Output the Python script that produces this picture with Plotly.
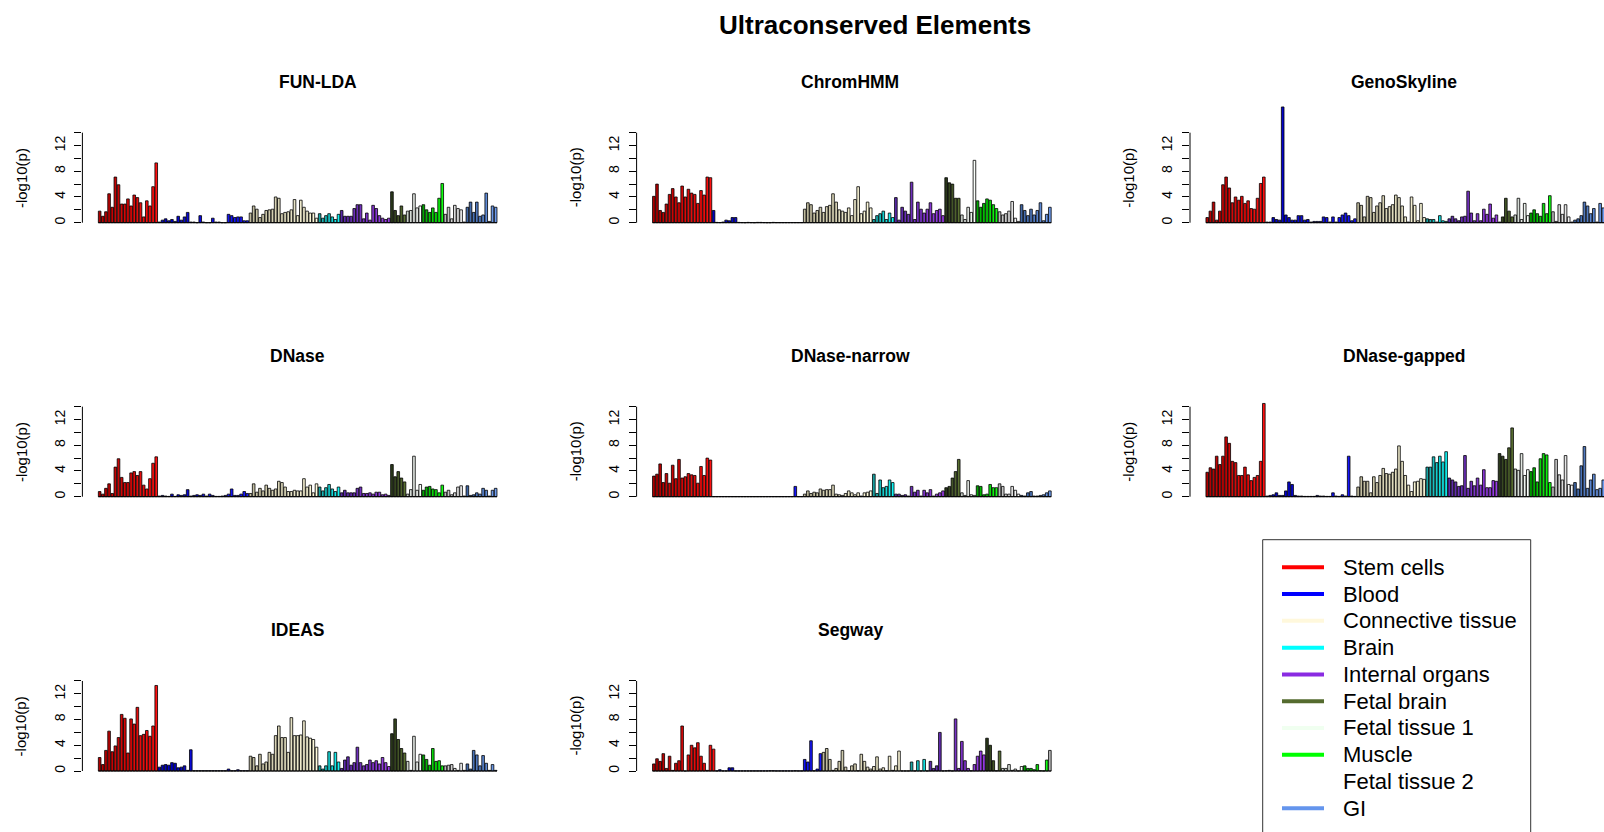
import plotly.graph_objects as go

W, H = 1604, 832

# ---------------- data ----------------
group_names = ["Stem cells", "Blood", "Connective tissue", "Brain", "Internal organs",
               "Fetal brain", "Fetal tissue 1", "Muscle", "Fetal tissue 2", "GI"]
group_sizes = [19, 29, 22, 7, 16, 5, 5, 7, 7, 10]
group_sizes_segway = [20, 34, 28, 6, 18, 5, 7, 8, 1, 0]
legend_colors = ["#FF0000", "#0000FF", "#FFF8DC", "#00FFFF", "#8A2BE2",
                 "#556B2F", "#F0FFF0", "#00FF00", "#FFFFFF", "#6495ED"]

panel_titles = ["FUN-LDA", "ChromHMM", "GenoSkyline", "DNase", "DNase-narrow",
                "DNase-gapped", "IDEAS", "Segway"]

fun_lda = [1.8, 1.0, 1.7, 4.5, 2.4, 7.1, 5.9, 2.9, 2.9, 3.7, 2.6, 4.3, 3.9, 3.1, 0.9, 3.4, 2.6, 5.6, 9.3,
           0.1, 0.4, 0.6, 0.3, 0.5, 0.2, 1.0, 0.4, 0.9, 1.6, 0.1, 0.1, 0.0, 1.1, 0.1, 0.0, 0.0, 0.7, 0.1, 0.1,
           0.0, 0.0, 1.3, 1.1, 0.8, 0.9, 0.9, 0.3, 0.3,
           1.5, 2.6, 2.1, 0.8, 1.3, 1.9, 2.0, 2.1, 4.0, 3.8, 1.4, 1.6, 1.7, 2.0, 3.6, 1.1, 3.5, 2.4, 1.8, 1.5, 1.5, 0.7,
           1.4, 0.7, 1.1, 1.4, 0.9, 0.5, 1.3,
           1.9, 1.0, 1.0, 1.0, 2.2, 2.8, 2.8, 0.6, 1.5, 0.4, 2.7, 2.2, 1.1, 0.7, 0.5, 0.7,
           4.8, 1.9, 1.1, 2.6, 1.2,
           1.8, 1.9, 4.5, 2.3, 2.6,
           2.8, 2.0, 1.6, 2.3, 1.6, 3.8, 6.1,
           1.3, 2.4, 0.6, 2.7, 2.2, 2.0, 0.1,
           2.4, 3.2, 1.6, 3.2, 1.0, 1.2, 4.6, 0.2, 2.6, 2.4]

chromhmm = [4.1, 6.0, 1.9, 1.6, 2.9, 4.4, 5.3, 4.0, 3.1, 5.7, 4.0, 5.2, 4.6, 4.4, 3.0, 5.0, 4.3, 7.1, 7.0,
            1.9, 0.05, 0.02, 0.1, 0.4, 0.3, 0.8, 0.8, 0.05, 0.02, 0.0, 0.05, 0.02, 0.0, 0.05, 0.05, 0.02, 0.0,
            0.0, 0.05, 0.02, 0.02, 0.02, 0.02, 0.02, 0.02, 0.02, 0.02, 0.02,
            2.1, 3.1, 2.8, 1.5, 1.9, 2.4, 1.6, 2.5, 2.7, 4.5, 3.2, 2.0, 1.8, 1.6, 2.3, 1.1, 3.6, 5.6, 1.4, 1.8, 3.2, 2.3,
            0.5, 1.1, 1.4, 1.8, 0.5, 1.5, 0.8,
            3.9, 0.4, 2.4, 1.8, 1.3, 6.3, 0.5, 3.2, 2.1, 1.5, 2.1, 3.1, 1.4, 1.9, 2.1, 1.1,
            7.0, 6.2, 6.0, 3.8, 3.8,
            1.2, 0.5, 2.4, 1.6, 9.7,
            3.4, 2.4, 3.0, 3.7, 3.5, 2.8, 2.2,
            1.7, 1.2, 1.4, 1.8, 3.3, 0.7, 0.2,
            2.8, 1.9, 1.1, 2.1, 1.2, 1.9, 3.1, 0.3, 1.3, 2.4]

genoskyline = [0.8, 1.8, 3.2, 0.4, 1.8, 5.9, 7.1, 5.4, 3.1, 4.0, 3.5, 4.1, 3.0, 3.4, 2.2, 2.1, 3.8, 6.1, 7.1,
               0.1, 0.1, 0.8, 0.5, 0.4, 18.0, 1.2, 0.8, 0.4, 0.4, 1.1, 1.1, 0.4, 0.5, 0.1, 0.2, 0.2, 0.2, 0.9,
               0.8, 0.1, 0.9, 0.1, 0.8, 1.2, 1.5, 1.1, 0.3, 0.6,
               3.1, 2.7, 0.9, 4.1, 3.9, 1.6, 2.6, 3.1, 4.2, 2.2, 2.5, 2.8, 4.3, 3.9, 2.6, 0.9, 0.1, 4.0, 2.7, 0.3, 3.0, 0.8,
               0.6, 0.5, 0.5, 0.1, 1.1, 0.3, 0.2,
               0.6, 1.0, 0.6, 0.3, 0.9, 1.0, 4.9, 1.5, 0.3, 1.4, 0.3, 2.1, 1.3, 2.9, 0.7, 1.2,
               0.1, 0.9, 3.8, 1.8, 0.9,
               1.2, 3.8, 0.5, 3.0, 1.1,
               1.5, 2.0, 1.4, 1.0, 3.0, 1.4, 4.2,
               1.7, 0.2, 2.8, 1.3, 2.8, 0.9, 0.1,
               0.4, 0.6, 1.1, 3.2, 2.6, 1.4, 2.2, 0.1, 3.0, 2.3]

dnase = [0.8, 0.4, 1.3, 2.0, 0.5, 4.6, 5.9, 3.0, 2.2, 2.2, 3.7, 3.9, 3.3, 3.9, 1.8, 1.2, 2.8, 5.2, 6.2,
         0.1, 0.2, 0.1, 0.05, 0.4, 0.05, 0.3, 0.2, 0.3, 1.1, 0.1, 0.2, 0.3, 0.2, 0.4, 0.1, 0.4, 0.2, 0.05,
         0.05, 0.1, 0.2, 0.4, 1.2, 0.2, 0.2, 0.4, 0.8, 0.5,
         0.5, 2.0, 0.7, 1.3, 0.9, 1.8, 1.3, 1.0, 1.2, 2.4, 2.2, 1.5, 0.8, 0.8, 1.0, 0.9, 0.9, 2.8, 1.5, 1.8, 0.6, 2.0,
         1.5, 0.9, 1.4, 1.9, 1.2, 0.8, 1.5,
         0.6, 1.0, 0.6, 0.6, 0.6, 1.3, 1.5, 0.5, 0.5, 0.6, 0.4, 0.7, 0.7, 0.3, 0.4, 0.2,
         5.0, 3.1, 3.9, 2.9, 2.3,
         0.4, 1.1, 6.3, 1.0, 1.9,
         1.0, 1.5, 1.6, 1.2, 1.1, 0.6, 1.8,
         0.7, 1.0, 0.3, 0.6, 1.5, 1.7, 0.1,
         1.7, 0.2, 0.3, 0.6, 0.4, 1.3, 1.0, 0.1, 1.0, 1.3]

dnase_narrow = [3.2, 3.5, 5.1, 2.2, 3.6, 2.1, 4.9, 2.8, 5.8, 2.9, 3.1, 3.6, 3.4, 3.3, 2.1, 4.7, 3.3, 6.0, 5.7,
                0.02, 0.02, 0.02, 0.02, 0.02, 0.02, 0.02, 0.02, 0.02, 0.02, 0.02, 0.02, 0.02, 0.02, 0.02, 0.02,
                0.02, 0.02, 0.02, 0.02, 0.02, 0.02, 0.02, 0.02, 0.02, 0.02, 1.6, 0.02, 0.02,
                0.4, 0.9, 0.5, 0.7, 0.6, 1.2, 1.0, 1.1, 1.1, 1.8, 0.4, 0.3, 0.2, 0.5, 0.9, 0.6, 0.3, 0.6, 0.1, 0.6, 0.7, 0.9,
                3.5, 0.5, 2.6, 1.4, 1.6, 2.6, 2.2,
                0.4, 0.4, 0.2, 0.3, 0.1, 1.6, 0.7, 1.0, 0.1, 1.0, 0.6, 1.1, 0.1, 0.4, 0.6, 0.9,
                1.4, 1.6, 2.9, 3.9, 5.8,
                0.6, 0.2, 2.5, 0.3, 0.2,
                1.7, 1.6, 0.3, 0.4, 1.9, 1.4, 1.4,
                2.0, 1.6, 0.4, 0.4, 1.6, 1.0, 0.4,
                0.2, 0.1, 0.6, 0.8, 0.1, 0.1, 0.2, 0.3, 0.6, 0.9]

dnase_gapped = [3.8, 4.5, 4.3, 6.3, 5.0, 6.3, 9.3, 8.3, 5.5, 5.3, 3.3, 3.3, 4.6, 3.4, 2.5, 3.0, 3.3, 5.5, 14.5,
                0.1, 0.2, 0.3, 0.6, 0.2, 0.2, 0.9, 2.3, 1.9, 0.2, 0.1, 0.1, 0.05, 0.05, 0.05, 0.05, 0.2, 0.1,
                0.1, 0.05, 0.05, 0.6, 0.1, 0.05, 0.3, 0.1, 6.3, 0.1, 0.05,
                1.5, 3.1, 2.4, 2.4, 0.6, 3.1, 2.2, 3.3, 4.4, 3.6, 3.5, 3.8, 4.3, 7.9, 5.5, 3.3, 1.8, 0.8, 2.3, 2.4, 2.8, 2.7,
                4.6, 4.6, 6.2, 5.3, 6.3, 5.4, 7.0,
                2.9, 2.6, 2.3, 1.6, 1.7, 6.4, 1.3, 2.4, 1.7, 2.9, 1.8, 4.2, 1.4, 1.4, 2.5, 2.4,
                6.7, 6.3, 5.8, 7.6, 10.7,
                4.3, 4.1, 6.7, 3.3, 4.2,
                3.9, 4.5, 2.3, 5.9, 6.7, 6.5, 2.2,
                1.5, 5.8, 3.4, 2.6, 6.4, 1.9, 1.8,
                2.2, 1.2, 4.8, 7.8, 1.3, 2.6, 3.5, 1.1, 1.3, 2.6]

ideas = [2.1, 1.0, 3.2, 6.2, 3.0, 3.9, 5.2, 8.8, 8.2, 2.8, 8.1, 7.3, 9.9, 5.5, 5.7, 6.3, 5.4, 7.0, 13.3,
         0.6, 0.9, 1.0, 0.9, 1.3, 1.2, 0.5, 0.6, 0.8, 0.1, 3.3, 0.05, 0.05, 0.05, 0.05, 0.05, 0.05, 0.05,
         0.05, 0.05, 0.05, 0.05, 0.3, 0.05, 0.05, 0.2, 0.05, 0.05, 0.05,
         2.3, 2.1, 0.8, 2.6, 1.1, 1.4, 2.9, 2.6, 5.5, 7.0, 5.2, 5.2, 2.9, 8.3, 5.5, 5.5, 5.6, 7.8, 5.3, 5.1, 4.9, 3.7,
         0.8, 0.3, 0.8, 3.0, 0.8, 2.9, 1.4,
         0.4, 1.7, 2.2, 0.9, 1.3, 3.7, 1.3, 0.8, 1.0, 1.7, 1.3, 1.6, 1.1, 2.1, 1.3, 0.7,
         5.8, 8.1, 4.9, 3.5, 2.8,
         1.5, 0.1, 5.4, 1.4, 2.6,
         2.5, 1.8, 0.9, 3.5, 1.5, 1.6, 0.8,
         0.8, 0.9, 1.0, 0.4, 0.1, 1.2, 0.1,
         1.1, 0.3, 3.2, 2.5, 0.8, 2.4, 1.2, 0.1, 1.0, 0.1]

segway = [1.1, 1.9, 1.5, 2.7, 0.4, 2.3, 0.1, 1.2, 1.6, 7.0, 0.0, 2.5, 4.0, 3.6, 4.4, 2.3, 1.2, 0.1, 4.0, 3.4,
          0.02, 0.2, 0.02, 0.02, 0.5, 0.5, 0.02, 0.02, 0.02, 0.02, 0.02, 0.02, 0.02, 0.02, 0.02, 0.02, 0.02,
          0.05, 0.05, 0.02, 0.02, 0.02, 0.02, 0.02, 0.02, 0.05, 0.02, 0.02, 1.8, 1.4, 4.7, 0.05, 0.3, 2.7,
          2.9, 3.5, 1.8, 0.1, 0.4, 1.5, 3.2, 0.6, 0.05, 0.8, 1.1, 0.05, 2.6, 1.5, 0.6, 0.3, 0.7, 2.2, 0.3, 0.5,
          0.05, 2.3, 0.1, 0.8, 3.1, 0.02, 0.02, 0.02,
          1.4, 0.02, 1.6, 0.02, 1.8, 0.02,
          1.5, 0.4, 0.8, 6.0, 0.02, 0.05, 0.1, 0.02, 8.1, 0.4, 4.6, 1.6, 0.4, 0.05, 1.0, 2.3, 3.1, 2.5,
          5.1, 4.0, 1.6, 0.05, 3.1,
          0.4, 0.4, 1.0, 0.1, 0.3, 0.02, 0.7,
          0.8, 0.4, 0.4, 0.2, 1.0, 0.05, 0.02, 1.7,
          3.2]

panel_values = [fun_lda, chromhmm, genoskyline, dnase, dnase_narrow, dnase_gapped, ideas, segway]

y_tick_vals = [0, 2, 4, 6, 8, 10, 12, 14]
y_tick_text = ["0", "", "4", "", "8", "", "12", ""]

# ---------------- styling ----------------
grad = [("#B00000", "#FF1010"), ("#0000C0", "#1818FF"), ("#BEB99C", "#FFFBDC"),
        ("#1AA5A5", "#10F5F5"), ("#5A2AA8", "#9A3CE6"), ("#2C3A1C", "#5A7032"),
        ("#C8CFC8", "#FBFFFB"), ("#00A800", "#10FF10"), ("#B8B8B8", "#FFFFFF"),
        ("#3F66A6", "#6E9CEE")]


def hex2rgb(h):
    h = h.lstrip("#")
    return [int(h[i:i + 2], 16) for i in (0, 2, 4)]


def mix(c1, c2, t):
    a, b = hex2rgb(c1), hex2rgb(c2)
    return "rgb(%d,%d,%d)" % tuple(round(a[k] + (b[k] - a[k]) * t) for k in range(3))


def colors_for(sizes):
    out = []
    for (c1, c2), n in zip(grad, sizes):
        for j in range(n):
            out.append(mix(c1, c2, j / max(n - 1, 1)))
    return out


bar_colors = colors_for(group_sizes)
bar_colors_segway = colors_for(group_sizes_segway)

SLOT = 3.143               # px per bar slot
col_left = [82.4, 636.6, 1190.0]
col_right = [512.9, 1067.1, 1604.0]
row_zero = [222.7, 496.7, 771.0]
UNIT = 6.43                # px per y unit
YMIN, YMAX = -0.56, 19.0
XMIN = -5.49
title_x = [318.0, 850.0, 1404.0, 297.7, 850.0, 1404.0, 297.7, 850.0]
title_y = [82.0, 356.0, 630.0]


def px(x):
    return x / W


def py(y):
    return 1 - y / H


fig = go.Figure()
annotations = []
shapes = []

for k, (vals, ttl) in enumerate(zip(panel_values, panel_titles)):
    r, c = divmod(k, 3)
    ax = "" if k == 0 else str(k + 1)
    xl, xr = col_left[c], col_right[c]
    z = row_zero[r]
    cols = bar_colors_segway if ttl == "Segway" else bar_colors
    fig.add_trace(go.Bar(
        x=list(range(len(vals))), y=vals,
        marker=dict(color=cols[:len(vals)], line=dict(color="black", width=0.8)),
        xaxis="x" + ax, yaxis="y" + ax, showlegend=False, hoverinfo="y"))
    xmax = XMIN + (xr - xl) / SLOT
    fig.update_layout(**{
        "xaxis" + ax: dict(domain=[px(xl), px(xr)], range=[XMIN, xmax], visible=False,
                           anchor="y" + ax, fixedrange=True),
        "yaxis" + ax: dict(domain=[py(z - YMIN * UNIT), py(z - YMAX * UNIT)], range=[YMIN, YMAX],
                           anchor="x" + ax, showline=False, zeroline=False, showgrid=False,
                           ticks="outside", ticklen=7, tickwidth=1, tickcolor="black",
                           tickvals=y_tick_vals, ticktext=y_tick_text, tickangle=-90,
                           tickfont=dict(size=14, color="black"), ticklabelstandoff=4,
                           fixedrange=True),
    })
    shapes.append(dict(type="line", xref="paper", yref="y" + ax, x0=px(xl), x1=px(xl),
                       y0=0, y1=14, line=dict(color="black", width=1)))
    shapes.append(dict(type="line", xref="x" + ax, yref="y" + ax, x0=-0.42, x1=len(vals) - 0.58,
                       y0=0, y1=0, line=dict(color="black", width=1)))
    annotations.append(dict(text="<b>%s</b>" % ttl, x=px(title_x[k]), y=py(title_y[r]),
                            xref="paper", yref="paper", showarrow=False, xanchor="center",
                            yanchor="middle", font=dict(size=17.5, color="black")))
    annotations.append(dict(text="-log10(p)", x=px(xl - 61), y=7, xref="paper", yref="y" + ax,
                            showarrow=False, textangle=-90, xanchor="center", yanchor="middle",
                            font=dict(size=15, color="black")))

annotations.append(dict(text="<b>Ultraconserved Elements</b>", x=px(875), y=py(25), xref="paper",
                        yref="paper", showarrow=False, xanchor="center", yanchor="middle",
                        font=dict(size=26, color="black")))

shapes.append(dict(type="rect", xref="paper", yref="paper", x0=px(1262.7), x1=px(1530.7),
                   y0=py(840), y1=py(539.7), line=dict(color="#333333", width=1)))
for i, (nm, col) in enumerate(zip(group_names, legend_colors)):
    yy = 567.3 + i * 26.78
    shapes.append(dict(type="line", xref="paper", yref="paper", x0=px(1282), x1=px(1324),
                       y0=py(yy), y1=py(yy), line=dict(color=col, width=4)))
    annotations.append(dict(text=nm, x=px(1341), y=py(yy), xref="paper", yref="paper",
                            showarrow=False, xanchor="left", yanchor="middle",
                            font=dict(size=22, color="black")))

fig.update_layout(width=W, height=H, margin=dict(l=0, r=0, t=0, b=0),
                  paper_bgcolor="white", plot_bgcolor="rgba(0,0,0,0)",
                  bargap=0.1667, font=dict(family="Liberation Sans, Arial, sans-serif"),
                  annotations=annotations, shapes=shapes, showlegend=False)

fig.write_html("out.html")
